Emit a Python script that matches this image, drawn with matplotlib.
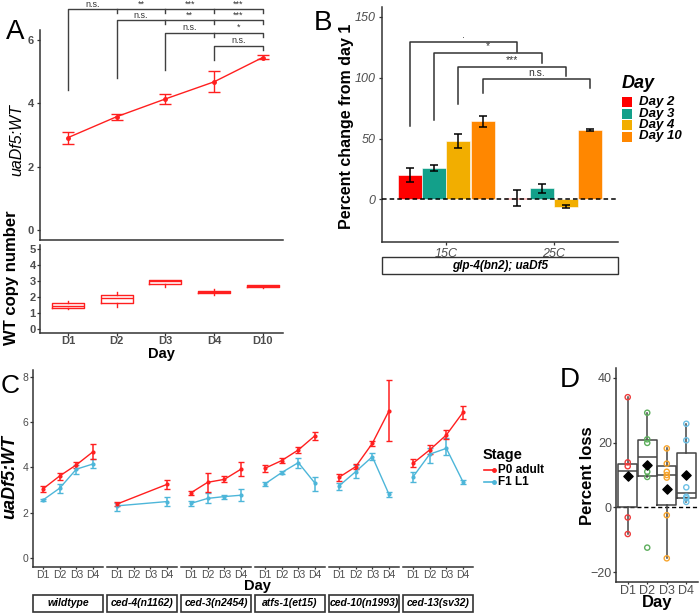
import numpy as np
import matplotlib
matplotlib.use('Agg')
import matplotlib.pyplot as plt
from matplotlib.patches import Rectangle

plt.rcParams['font.family'] = ['Liberation Sans', 'DejaVu Sans']

# ---- panel A data ----
days_A = ['D1', 'D2', 'D3', 'D4', 'D10']
ratio_A = [2.92, 3.58, 4.14, 4.68, 5.45]
ratio_A_lo = [2.71, 3.47, 3.98, 4.35, 5.39]
ratio_A_hi = [3.11, 3.66, 4.29, 5.03, 5.53]
sig_A = [['n.s.', '**', '***', '***'], ['n.s.', '**', '***'], ['n.s.', '*'], ['n.s.']]
sig_A_top = [6.97, 6.63, 6.23, 5.81]
sig_A_drop = [4.42, 4.79, 5.05, 5.37]
wt_q1 = [1.35, 1.65, 2.81, 2.23, 2.62]
wt_med = [1.44, 1.92, 3.02, 2.31, 2.69]
wt_q3 = [1.65, 2.12, 3.10, 2.40, 2.75]
wt_lo = [1.29, 1.40, 2.65, 2.15, 2.60]
wt_hi = [1.75, 2.33, 3.10, 2.48, 2.77]

# ---- panel B data ----
temps = ['15C', '25C']
day_groups = ['Day 2', 'Day 3', 'Day 4', 'Day 10']
day_colors = ['#FF0000', '#13A08A', '#F2AE00', '#FF8700']
pct_15 = [20, 26, 48, 64]
pct_15_err = [6, 2.5, 5.5, 4.5]
pct_25 = [1, 9, -6, 57]
pct_25_err = [6.5, 4, 1.2, 0.6]
sig_B = ['.', '*', '***', 'n.s.']
sig_B_top = [129.5, 120.5, 109, 99]
sig_B_left = [60, 65.6, 78, 87.7]
sig_B_right = [121, 112, 101.6, 91.8]

# ---- panel C data ----
strains = ['wildtype', 'ced-4(n1162)', 'ced-3(n2454)', 'atfs-1(et15)', 'ced-10(n1993)', 'ced-13(sv32)']
days_C = ['D1', 'D2', 'D3', 'D4']
nan = np.nan
p0_mean = [[3.05, 3.62, 4.11, 4.69], [2.38, nan, nan, 3.25], [2.88, 3.34, 3.47, 3.92],
           [3.96, 4.30, 4.77, 5.40], [3.56, 4.03, 5.06, 6.50], [4.18, 4.77, 5.43, 6.43]]
p0_lo = [[2.90, 3.44, 3.96, 4.37], [2.28, nan, nan, 3.03], [2.78, 2.90, 3.34, 3.61],
         [3.80, 4.18, 4.65, 5.23], [3.40, 3.93, 4.95, 5.17], [4.02, 4.57, 5.24, 6.14]]
p0_hi = [[3.19, 3.77, 4.24, 5.03], [2.49, nan, nan, 3.44], [2.95, 3.77, 3.61, 4.24],
         [4.12, 4.41, 4.89, 5.58], [3.72, 4.13, 5.17, 7.86], [4.37, 4.97, 5.64, 6.71]]
f1_mean = [[2.56, 3.08, 3.92, 4.15], [2.30, nan, nan, 2.49], [2.41, 2.63, 2.71, 2.77],
           [3.27, 3.77, 4.21, 3.30], [3.18, 3.81, 4.47, 2.81], [3.58, 4.58, 4.84, 3.36]]
f1_lo = [[2.50, 2.89, 3.72, 3.96], [2.08, nan, nan, 2.30], [2.30, 2.41, 2.59, 2.52],
         [3.19, 3.69, 3.99, 2.96], [3.00, 3.53, 4.33, 2.69], [3.36, 4.18, 4.55, 3.28]]
f1_hi = [[2.62, 3.27, 4.11, 4.36], [2.44, nan, nan, 2.68], [2.52, 2.88, 2.80, 3.03],
         [3.34, 3.84, 4.43, 3.56], [3.33, 4.10, 4.62, 2.93], [3.78, 4.84, 5.28, 3.43]]

# ---- panel D data ----
days_D = ['D1', 'D2', 'D3', 'D4']
loss_pts = [[34, 13.9, 12.7, -3.1, -8.2],
            [29.2, 21.0, 19.9, 11.0, 9.4, -12.4],
            [18.2, 13.5, 11.0, 10.0, 9.2, -2.4, -15.7],
            [25.8, 20.7, 6.2, 3.3, 2.8, 1.7]]
loss_q1 = [0, 9.7, 0.7, 3.0]
loss_med = [11.2, 15.4, 9.9, 4.5]
loss_q3 = [13.5, 20.7, 12.7, 16.9]
loss_lo = [-8.2, 9.4, -15.7, 1.7]
loss_hi = [34, 29.2, 18.2, 25.8]
loss_mean = [9.6, 13.0, 5.6, 10.0]
loss_colors = ['#EE3B3B', '#5DAE5D', '#F7A42C', '#6CC0E5']

W, H = 699, 614
fig = plt.figure(figsize=(W / 100, H / 100), dpi=100)
AX = '#333333'
TICK = '#4D4D4D'
RED = '#FF1F1F'
BLUE = '#4DB6D9'


def px_axes(x0, y0, x1, y1):
    return fig.add_axes([x0 / W, 1 - y1 / H, (x1 - x0) / W, (y1 - y0) / H])


def px_text(x, y, s, **kw):
    fig.text(x / W, 1 - y / H, s, **kw)


def style(ax, size=8, weight='bold', pad=2):
    for s in ['top', 'right']:
        ax.spines[s].set_visible(False)
    for s in ['left', 'bottom']:
        ax.spines[s].set_color(AX)
        ax.spines[s].set_linewidth(1.1)
    ax.tick_params(colors=AX, labelcolor=TICK, length=2.5, width=0.9, labelsize=size, pad=pad)
    for lab in ax.get_xticklabels() + ax.get_yticklabels():
        lab.set_fontweight(weight)
    ax.patch.set_alpha(0)


def make_stats(q1, med, q3, lo, hi):
    return [dict(q1=a, med=b, q3=c, whislo=d, whishi=e, fliers=[]) for a, b, c, d, e in zip(q1, med, q3, lo, hi)]


# ================= Panel A =================
xa = np.arange(1, len(days_A) + 1)
axA = px_axes(40, 30, 283, 240)
ra = np.array(ratio_A)
axA.errorbar(xa, ra, yerr=[ra - np.array(ratio_A_lo), np.array(ratio_A_hi) - ra],
             color=RED, lw=1, capsize=4, capthick=1, marker='o', ms=2.5)
axA.set_xlim(0.42, 5.42)
axA.set_ylim(-0.32, 6.32)
axA.set_xticks([])
axA.set_yticks([0, 2, 4, 6])
style(axA)
px_text(17, 140, 'uaDf5:WT', rotation=90, ha='center', va='center', fontsize=11.5, style='italic')
for r, labels in enumerate(sig_A):
    s = r
    h = sig_A_top[r]
    axA.plot([xa[s], xa[s], xa[-1], xa[-1]], [sig_A_drop[r], h, h, h - 0.12],
             color='#404040', lw=1, clip_on=False)
    for j in range(s + 1, len(xa) - 1):
        axA.plot([xa[j], xa[j]], [h, h - 0.12], color='#404040', lw=1, clip_on=False)
    for k, lab in enumerate(labels):
        j = s + k
        axA.text((xa[j] + xa[j + 1]) / 2, h + 0.02, lab, ha='center', va='bottom',
                 fontsize=6.5, color='#333333', clip_on=False)

axA2 = px_axes(40, 245, 283, 333)
axA2.bxp(make_stats(wt_q1, wt_med, wt_q3, wt_lo, wt_hi), positions=xa, widths=0.66,
         showfliers=False, showcaps=False,
         boxprops=dict(color=RED, lw=1), medianprops=dict(color=RED, lw=1),
         whiskerprops=dict(color=RED, lw=1))
axA2.set_xlim(0.42, 5.42)
axA2.set_ylim(-0.23, 5.25)
axA2.set_yticks(range(6))
axA2.set_xticks(xa)
axA2.set_xticklabels(days_A)
style(axA2, size=8, pad=0.5)
axA2.tick_params(axis='x', length=2)
px_text(161, 354, 'Day', ha='center', va='center', fontsize=10.5, fontweight='bold')
px_text(12, 278, 'WT copy number', rotation=90, ha='center', va='center',
        fontsize=12, fontweight='bold')
px_text(15, 32, 'A', fontsize=20, ha='center', va='center')

# ================= Panel B =================
axB = px_axes(382, 7, 618, 242)
bw = 0.225
for i, (lab, col) in enumerate(zip(day_groups, day_colors)):
    xs = np.array([1, 2]) - 0.45 + bw / 2 + i * bw
    vals = [pct_15[i], pct_25[i]]
    errs = [pct_15_err[i], pct_25_err[i]]
    axB.bar(xs, vals, width=bw, color=col, edgecolor='white', lw=0.4, zorder=2)
    axB.errorbar(xs, vals, yerr=errs, fmt='none', ecolor='black', lw=1.1, capsize=3,
                 capthick=1.1, zorder=3)
axB.axhline(0, color='black', ls=(0, (3, 2)), lw=1.1, zorder=4)
for i, lab in enumerate(sig_B):
    xl = 1 - 0.45 + bw / 2 + i * bw
    xr = xl + 1
    h = sig_B_top[i]
    axB.plot([xl, xl, xr, xr], [sig_B_left[i], h, h, sig_B_right[i]], color='#333333', lw=1.1)
    axB.text((xl + xr) / 2, h + 1, lab, ha='center', va='bottom', fontsize=7.5, color='#333333')
axB.set_xlim(0.4, 2.6)
axB.set_ylim(-35, 158)
axB.set_yticks([0, 50, 100, 150])
axB.set_xticks([1, 2])
axB.set_xticklabels(temps)
style(axB, size=9, weight='normal', pad=2)
for lab in axB.get_xticklabels() + axB.get_yticklabels():
    lab.set_style('italic')
px_text(347, 126, 'Percent change from day 1', rotation=90, ha='center', va='center',
        fontsize=11.5, fontweight='bold')
fig.add_artist(Rectangle((382 / W, 1 - 274 / H), 236 / W, 17 / H, transform=fig.transFigure,
                         facecolor='white', edgecolor='#333333', lw=1))
px_text(500, 265.5, 'glp-4(bn2); uaDf5', ha='center', va='center', fontsize=8.5,
        fontweight='bold', style='italic')
px_text(323, 23, 'B', fontsize=20, ha='center', va='center')
# legend B
px_text(622, 83, 'Day', fontsize=13, fontweight='bold', style='italic', va='center')
for i, (lab, col) in enumerate(zip(day_groups, day_colors)):
    yc = 102 + i * 11.5
    fig.add_artist(Rectangle((622 / W, 1 - (yc + 5) / H), 10 / W, 10 / H,
                             transform=fig.transFigure, facecolor=col, edgecolor='none'))
    px_text(639, yc, lab, fontsize=9.5, fontweight='bold', style='italic', va='center')

# ================= Panel C =================
xc = np.arange(1, 5)
for f, strain in enumerate(strains):
    x0 = 33 + f * 74
    ax = px_axes(x0, 370, x0 + 70, 567)
    for mean, lo, hi, col in [(f1_mean[f], f1_lo[f], f1_hi[f], BLUE),
                              (p0_mean[f], p0_lo[f], p0_hi[f], RED)]:
        m = np.array(mean)
        ok = ~np.isnan(m)
        yerr = [m[ok] - np.array(lo)[ok], np.array(hi)[ok] - m[ok]]
        ax.errorbar(xc[ok], m[ok], yerr=yerr, color=col, lw=1, capsize=2, capthick=1,
                    marker='o', ms=2, elinewidth=1.1)
    ax.set_xlim(0.4, 4.6)
    ax.set_ylim(-0.4, 8.3)
    ax.set_xticks(xc)
    ax.set_xticklabels(days_C)
    ax.set_yticks([0, 2, 4, 6, 8])
    style(ax, size=7.5, weight='normal', pad=1)
    ax.tick_params(axis='x', length=1.5)
    if f > 0:
        ax.spines['left'].set_visible(False)
        ax.tick_params(axis='y', left=False, labelleft=False)
    fig.add_artist(Rectangle((x0 / W, 1 - 612 / H), 70 / W, 17 / H, transform=fig.transFigure,
                             facecolor='white', edgecolor='#333333', lw=1.2))
    px_text(x0 + 35, 603.5, strain, ha='center', va='center', fontsize=7.5,
            fontweight='bold', style='italic')
px_text(257, 586, 'Day', ha='center', va='center', fontsize=10.5, fontweight='bold')
px_text(10, 477, 'uaDf5:WT', rotation=90, ha='center', va='center', fontsize=13,
        fontweight='bold', style='italic')
px_text(10, 386, 'C', fontsize=19, ha='center', va='center')
# legend C
px_text(483, 455, 'Stage', fontsize=10.5, fontweight='bold', va='center')
for i, (lab, col) in enumerate([('P0 adult', RED), ('F1 L1', BLUE)]):
    yc = 470 + i * 12
    fig.add_artist(plt.Line2D([484 / W, 494 / W], [1 - yc / H] * 2, transform=fig.transFigure,
                              color=col, lw=1.2, marker='o', markevery=[1], ms=2.5))
    px_text(498, yc, lab, fontsize=8.5, fontweight='bold', va='center')

# ================= Panel D =================
axD = px_axes(616, 368, 698, 582)
xd = np.arange(1, 5)
axD.axhline(0, color='black', ls=(0, (3, 2)), lw=1, zorder=1)
axD.bxp(make_stats(loss_q1, loss_med, loss_q3, loss_lo, loss_hi), positions=xd, widths=0.95,
        showfliers=False, showcaps=False,
        boxprops=dict(color='#444444', lw=1.1), medianprops=dict(color='#444444', lw=1.1),
        whiskerprops=dict(color='#444444', lw=1.1))
for i, pts in enumerate(loss_pts):
    axD.scatter([xd[i]] * len(pts), pts, s=14, facecolors='none', edgecolors=loss_colors[i],
                lw=1, zorder=3)
axD.scatter(xd, loss_mean, marker='D', s=22, color='black', zorder=4)
axD.set_xlim(0.4, 4.6)
axD.set_ylim(-23, 43)
axD.set_yticks([-20, 0, 20, 40])
axD.set_xticks(xd)
axD.set_xticklabels(days_D)
style(axD, size=9, weight='normal', pad=0.5)
axD.tick_params(axis='x', length=1.5)
px_text(657, 603, 'Day', ha='center', va='center', fontsize=12, fontweight='bold')
px_text(587, 476, 'Percent loss', rotation=90, ha='center', va='center',
        fontsize=12, fontweight='bold')
px_text(570, 380, 'D', fontsize=20, ha='center', va='center')

fig.savefig('out.png', dpi=100)
